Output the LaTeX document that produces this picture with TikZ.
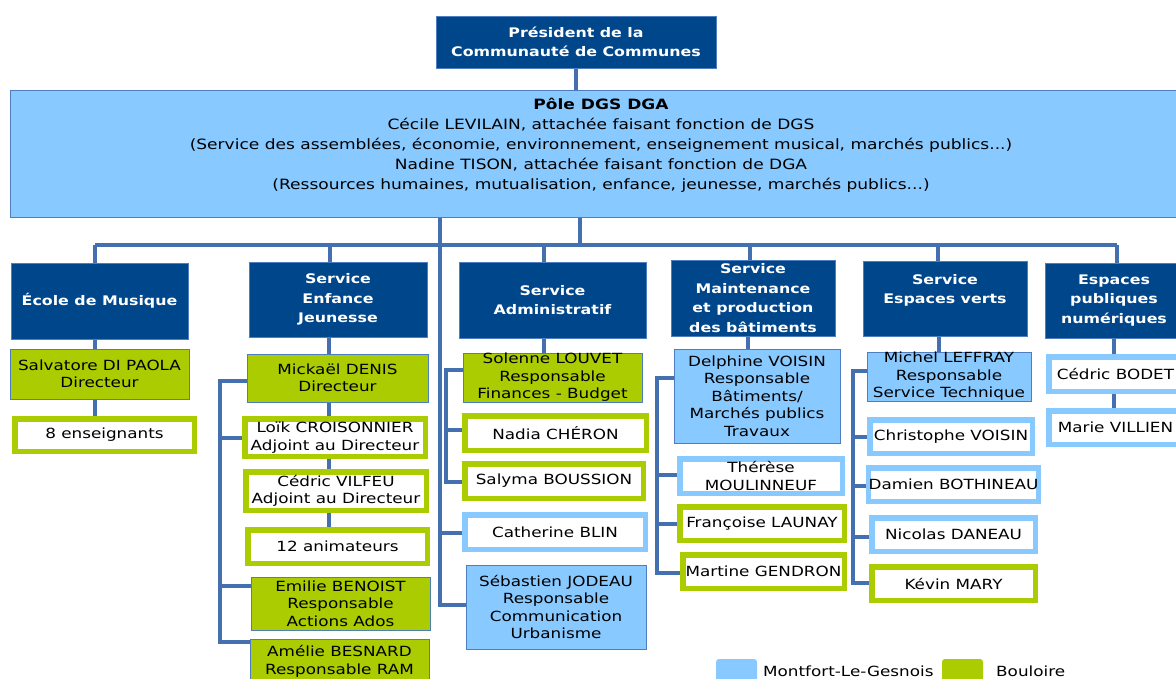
\documentclass[tikz,border=0pt]{standalone}
\usepackage{fontspec}
\setmainfont{DejaVu Sans}[FakeStretch=1.2]
\definecolor{navy}{HTML}{00468B}
\definecolor{lblue}{HTML}{88C9FF}
\definecolor{lgreen}{HTML}{AACC00}
\definecolor{conn}{HTML}{4470B0}
\definecolor{bord}{HTML}{4F7EC0}
\pgfdeclarelayer{bg}
\pgfsetlayers{bg,main}
\newcommand\bx[7]{\node[#6, minimum width={(#4-#2)*1pt}, minimum height={(#5-#3)*1pt}] (#1) at ({(#2+#4)/2},{(#3+#5)/2}) {#7};}
\newcommand\tb[7]{\node[#6, minimum width={(#4-#2-5.5)*1pt}, minimum height={(#5-#3-5.5)*1pt}] (#1) at ({(#2+#4)/2},{(#3+#5)/2}) {#7};}
\tikzset{
 boxtxt/.style={align=center, inner sep=0pt, font=\fontsize{14}{17.5}\selectfont},
 svc/.style={boxtxt, fill=navy, draw=bord, line width=0.8pt, text=white, font=\bfseries\fontsize{13.2}{19.5}\selectfont},
 polebox/.style={boxtxt, fill=lblue, draw=bord, line width=0.8pt, font=\fontsize{14.2}{20}\selectfont},
 gfill/.style={boxtxt, fill=lgreen, draw=bord, line width=0.8pt},
 bfill/.style={boxtxt, fill=lblue, draw=bord, line width=0.8pt},
 gthick/.style={boxtxt, fill=white, draw=lgreen, line width=5.5pt},
 bthick/.style={boxtxt, fill=white, draw=lblue, line width=5.5pt},
 cn/.style={draw=conn, line width=3.2pt},
 legbox/.style={rounded corners=3pt, minimum width=41pt, minimum height=40pt, inner sep=0pt},
 legtxt/.style={anchor=base west, inner sep=0pt, font=\fontsize{14}{16}\selectfont},
}
\begin{document}
\begin{tikzpicture}[x=1pt,y=-1pt]
\useasboundingbox (0,0) rectangle (1176,678);
% top
\bx{pres}{436}{16}{716}{68}{svc}{Président de la\\Communauté de Communes}
\bx{pole}{10}{90}{1192}{217}{polebox}{\textbf{Pôle DGS DGA}\\Cécile LEVILAIN, attachée faisant fonction de DGS\\(Service des assemblées, économie, environnement, enseignement musical, marchés publics...)\\Nadine TISON, attachée faisant fonction de DGA\\(Ressources humaines, mutualisation, enfance, jeunesse, marchés publics...)\\~}
% services
\bx{ecole}{11}{263}{188}{339}{svc}{École de Musique}
\bx{enf}{249}{262}{427}{337}{svc}{Service\\Enfance\\Jeunesse}
\bx{adm}{459}{262}{646}{338}{svc}{Service\\Administratif}
\bx{mnt}{671}{260}{835}{336}{svc}{Service\\Maintenance\\et production\\des bâtiments}
\bx{ev}{863}{261}{1027}{336}{svc}{Service\\Espaces verts\\~}
\bx{pub}{1045}{263}{1183}{338}{svc}{Espaces\\publiques\\numériques}
% ecole
\bx{salv}{10}{349}{189}{399}{gfill}{Salvatore DI PAOLA\\Directeur}
\tb{ens}{12}{416}{197}{454}{gthick}{8 enseignants}
% enfance
\bx{mick}{247}{354}{428}{402}{gfill}{Mickaël DENIS\\Directeur}
\tb{loik}{242}{416}{428}{459}{gthick}{Loïk CROISONNIER\\Adjoint au Directeur}
\tb{cedv}{243}{469}{429}{513}{gthick}{Cédric VILFEU\\Adjoint au Directeur}
\tb{anim}{245}{527}{430}{566}{gthick}{12 animateurs}
\bx{emil}{251}{577}{430}{630}{gfill}{Emilie BENOIST\\Responsable\\Actions Ados}
\bx{amel}{250}{639}{429}{684}{gfill}{Amélie BESNARD\\Responsable RAM}
% admin
\bx{sol}{463}{353}{642}{402}{gfill}{Solenne LOUVET\\Responsable\\Finances - Budget}
\tb{nad}{462}{413}{649}{453}{gthick}{Nadia CHÉRON}
\tb{sal}{462}{461}{646}{501}{gthick}{Salyma BOUSSION}
\tb{cath}{462}{512}{648}{552}{bthick}{Catherine BLIN}
\bx{seb}{466}{565}{646}{649}{bfill}{Sébastien JODEAU\\Responsable\\Communication\\Urbanisme}
% maintenance
\bx{delph}{674}{349}{840}{443}{bfill}{Delphine VOISIN\\Responsable\\Bâtiments/\\Marchés publics\\Travaux}
\tb{ther}{677}{456}{845}{496}{bthick}{Thérèse\\MOULINNEUF}
\tb{fran}{677}{504}{847}{543}{gthick}{Françoise LAUNAY}
\tb{mart}{680}{552}{847}{591}{gthick}{Martine GENDRON}
% espaces verts
\bx{mich}{867}{352}{1031}{401}{bfill}{Michel LEFFRAY\\Responsable\\Service Technique}
\tb{chris}{867}{417}{1035}{456}{bthick}{Christophe VOISIN}
\tb{dam}{868}{465}{1039}{504}{bthick}{Damien BOTHINEAU}
\tb{nic}{869}{515}{1038}{554}{bthick}{Nicolas DANEAU}
\tb{kev}{869}{564}{1038}{603}{gthick}{Kévin MARY}
% espaces publiques
\tb{bod}{1046}{354}{1185}{394}{bthick}{Cédric BODET}
\tb{mar}{1046}{408}{1185}{447}{bthick}{Marie VILLIEN}
% legend
\node[legbox, fill=lblue] (lg1) at (736.5,679) {};
\node[legtxt] (lt1) at (763,676) {Montfort-Le-Gesnois};
\node[legbox, fill=lgreen] (lg2) at (962.5,679) {};
\node[legtxt] (lt2) at (996,676) {Bouloire};
% connectors
\begin{pgfonlayer}{bg}
\fill[white] (0,0) rectangle (1176,678);
\draw[cn] (pres.south) -- (pres.south |- pole.north);
\coordinate (bt) at (580,245);
\draw[cn] (bt |- pole.south) -- (bt);
\coordinate (d1) at (95,245);
\coordinate (d2) at (330,245);
\coordinate (d3) at (544,245);
\coordinate (d4) at (750,245);
\coordinate (d5) at (938,245);
\coordinate (d6) at (1117,245);
\draw[cn] (d1) -- (d6);
\foreach \d/\n in {d1/ecole,d2/enf,d3/adm,d4/mnt,d5/ev,d6/pub}
  \draw[cn] (\d) -- (\d |- \n.north);
% vertical chains
\coordinate (v1) at (95,0);
\draw[cn] (v1 |- ecole.south) -- (v1 |- salv.north);
\draw[cn] (v1 |- salv.south) -- (v1 |- ens.north);
\coordinate (v2) at (329,0);
\draw[cn] (v2 |- enf.south) -- (v2 |- mick.north);
\draw[cn] (v2 |- mick.south) -- (v2 |- loik.north);
\draw[cn] (v2 |- loik.south) -- (v2 |- cedv.north);
\draw[cn] (v2 |- cedv.south) -- (v2 |- anim.north);
\coordinate (v3) at (544,0);
\draw[cn] (v3 |- adm.south) -- (v3 |- sol.north);
\coordinate (v4) at (748,0);
\draw[cn] (v4 |- mnt.south) -- (v4 |- delph.north);
\coordinate (v5) at (939,0);
\draw[cn] (v5 |- ev.south) -- (v5 |- mich.north);
\coordinate (v6) at (1114,0);
\draw[cn] (v6 |- pub.south) -- (v6 |- bod.north);
\draw[cn] (v6 |- bod.south) -- (v6 |- mar.north);
% main trunk
\coordinate (t0) at (440,0);
\coordinate (t1) at (440,605);
\coordinate (t2) at (440,533);
\draw[cn] (t0 |- pole.south) -- (t1) -- (seb.west |- t1);
\draw[cn] (t2) -- (cath.west |- t2);
% enfance bracket
\coordinate (ea) at (220,381);
\coordinate (eb) at (220,642);
\coordinate (e2) at (220,438);
\coordinate (e3) at (220,586);
\draw[cn] (mick.west |- ea) -- (ea) -- (eb) -- (amel.west |- eb);
\draw[cn] (e2) -- (loik.west |- e2);
\draw[cn] (e3) -- (emil.west |- e3);
% admin bracket
\coordinate (aa) at (446,370);
\coordinate (ab) at (446,482);
\coordinate (a2) at (446,430);
\draw[cn] (sol.west |- aa) -- (aa) -- (ab) -- (sal.west |- ab);
\draw[cn] (a2) -- (nad.west |- a2);
% maintenance bracket
\coordinate (ma) at (657,378);
\coordinate (mb) at (657,573);
\coordinate (m2) at (657,475);
\coordinate (m3) at (657,524);
\draw[cn] (delph.west |- ma) -- (ma) -- (mb) -- (mart.west |- mb);
\draw[cn] (m2) -- (ther.west |- m2);
\draw[cn] (m3) -- (fran.west |- m3);
% espaces verts bracket
\coordinate (ga) at (853,371);
\coordinate (gb) at (853,583);
\coordinate (g2) at (853,437);
\coordinate (g3) at (853,486);
\coordinate (g4) at (853,537);
\draw[cn] (mich.west |- ga) -- (ga) -- (gb) -- (kev.west |- gb);
\draw[cn] (g2) -- (chris.west |- g2);
\draw[cn] (g3) -- (dam.west |- g3);
\draw[cn] (g4) -- (nic.west |- g4);
\end{pgfonlayer}
\end{tikzpicture}
\end{document}
